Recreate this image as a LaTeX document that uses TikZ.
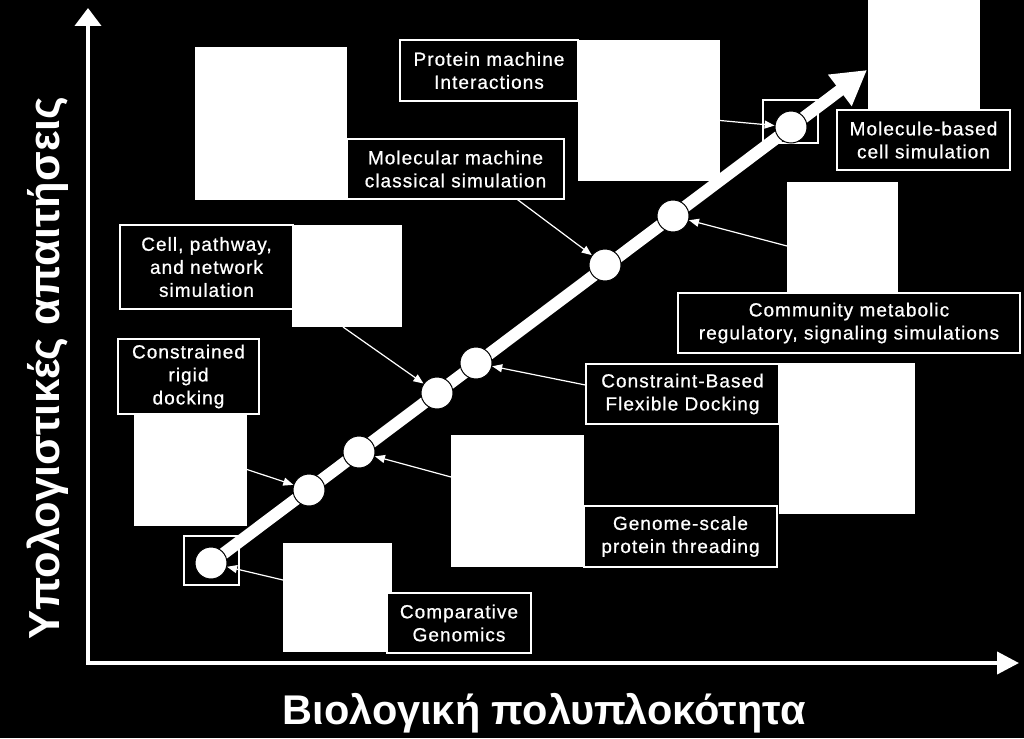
\documentclass[tikz,border=0pt]{standalone}
\usepackage{fontspec}
\setmainfont{Liberation Sans}
\newfontfamily\lblfont[LetterSpace=5.5,FakeBold=0.8]{Liberation Sans}
\usetikzlibrary{arrows.meta}

\begin{document}
\begin{tikzpicture}[x=1pt, y=-1pt,
  img/.style 2 args={rectangle, fill=white, inner sep=0pt, outer sep=0pt,
    minimum width=#1pt, minimum height=#2pt},
  lbl/.style 2 args={rectangle, draw=white, line width=1.2pt, fill=black, text=white,
    inner sep=0pt, minimum width=#1pt, minimum height=#2pt, align=center,
    font=\lblfont\fontsize{19}{23}\selectfont},
  hl/.style 2 args={rectangle, draw=white, line width=1.2pt, inner sep=0pt,
    minimum width=#1pt, minimum height=#2pt},
  dot/.style={circle, fill=white, draw=black, line width=1pt, minimum size=32pt, inner sep=0pt},
  ptr/.style={white, line width=1.2pt, -{Triangle[length=10pt,width=8pt]}},
  trunk/.style={white, line width=12pt, -{Triangle[length=34pt,width=37pt]}},
  axis/.style={white, line width=4pt,
    {Triangle[length=18pt,width=26pt]}-{Triangle[length=22pt,width=22pt]}},
  axlabel/.style={text=white, inner sep=0pt, font=\bfseries\fontsize{#1}{48}\selectfont}
]
\fill[black] (0,0) rectangle (1024,738);
\useasboundingbox (0,0) rectangle (1024,738);

% axes
\coordinate (ytop) at (88,8);
\coordinate (orig) at (88,663);
\coordinate (xend) at (1019,663);
\draw[axis] (ytop) -- (orig) -- (xend);
\node[axlabel=41.5, anchor=base] (xlab) at (544,724) {Βιολογική πολυπλοκότητα};
\node[axlabel=43.5, anchor=base, rotate=90] (ylab) at (59,368) {Υπολογιστικές απαιτήσεις};

% pictures
\node[img={152}{153}] (w1) at (271,123.5) {};
\node[img={142}{141}] (w2) at (649,110.5) {};
\node[img={112}{110}] (w3) at (924,55) {};
\node[img={110}{102}] (w4) at (347,276) {};
\node[img={113}{113}] (w5) at (190.5,469.5) {};
\node[img={111}{111}] (w6) at (842.5,237.5) {};
\node[img={136}{151}] (w7) at (847,438.5) {};
\node[img={133}{132}] (w8) at (517.5,501) {};
\node[img={109}{109}] (w9) at (337.5,597.5) {};

% labels
\node[lbl={178}{61}] (protein) at (489,70.5) {Protein machine\\Interactions};
\node[lbl={217}{60}] (molmach) at (455.5,169) {Molecular machine\\classical simulation};
\node[lbl={173}{60}] (molcell) at (923.5,140) {Molecule-based\\cell simulation};
\node[lbl={173}{84}] (cellnet) at (206.5,267) {Cell, pathway,\\and network\\simulation};
\node[lbl={141}{75}] (rigid) at (188.5,376.5) {Constrained\\rigid\\docking};
\node[lbl={342}{60}] (community) at (849,323) {Community metabolic\\regulatory, signaling simulations};
\node[lbl={193}{60}] (flexible) at (682.5,394) {Constraint-Based\\Flexible Docking};
\node[lbl={193}{61}] (threading) at (680.5,536.5) {Genome-scale\\protein threading};
\node[lbl={144}{60}] (genomics) at (459,623) {Comparative\\Genomics};

% main arrow with stages
\coordinate (start) at (211,563);
\coordinate (tip) at (867,70);
\node[hl={55}{49}] (hl1) at (211.5,560.5) {};
\node[hl={55}{43}] (hl8) at (790.5,121.5) {};
\draw[trunk] (start) -- (tip);
\foreach \n/\x/\y in {1/211/563, 2/309/490, 3/359/452, 4/437/393,
                      5/476/363, 6/605/265, 7/673/216, 8/791/127}
  \node[dot] (c\n) at (\x,\y) {};

\draw[ptr] ([yshift=17.5pt]w9.west) -- (c1);
\draw[ptr] (w5.east) -- (c2);
\draw[ptr] ([yshift=24pt]w8.west) -- (c3);
\draw[ptr] ([xshift=-4pt]w4.south) -- (c4);
\draw[ptr] ([yshift=9pt]flexible.west) -- (c5);
\draw[ptr] ([xshift=62pt]molmach.south) -- (c6);
\draw[ptr] ([yshift=-8.5pt]w6.west) -- (c7);
\draw[ptr] ([yshift=-10pt]w2.east) -- (c8);
\end{tikzpicture}
\end{document}
